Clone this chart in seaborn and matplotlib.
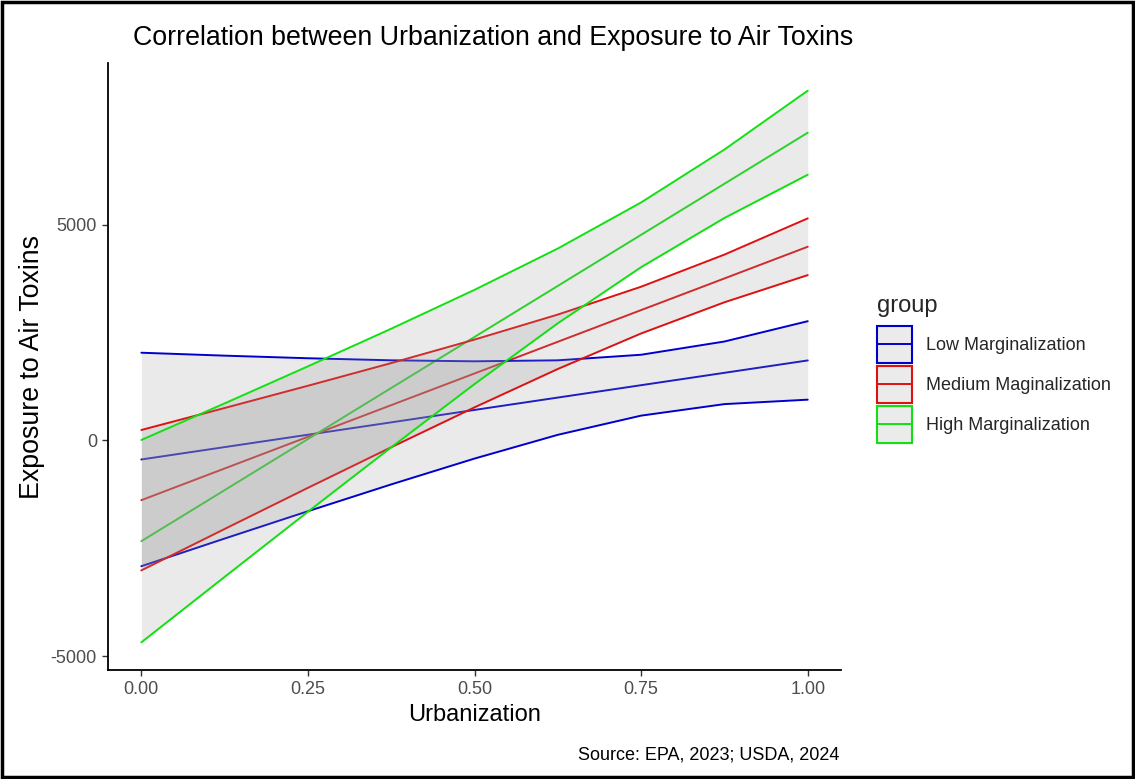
import matplotlib
matplotlib.use("Agg")
import matplotlib.pyplot as plt
from matplotlib.patches import Rectangle
from matplotlib.lines import Line2D
from matplotlib.legend_handler import HandlerBase
import numpy as np
import pandas as pd
import seaborn as sns

# values
urbanization = [0, 0.125, 0.25, 0.375, 0.5, 0.625, 0.75, 0.875, 1.0]
groups = ["Low Marginalization", "Medium Maginalization", "High Marginalization"]

low_fit = [-441, -154, 133, 420, 708, 995, 1282, 1569, 1856]
low_upper = [2035, 1967, 1907, 1859, 1836, 1859, 1988, 2295, 2766]
low_lower = [-2917, -2275, -1641, -1019, -420, 131, 576, 843, 946]

med_fit = [-1385, -650, 85, 819, 1554, 2289, 3024, 3758, 4493]
med_upper = [243, 753, 1269, 1795, 2340, 2920, 3566, 4311, 5151]
med_lower = [-3013, -2053, -1099, -157, 768, 1658, 2482, 3205, 3835]

high_fit = [-2336, -1152, 33, 1217, 2401, 3585, 4770, 5954, 7138]
high_upper = [11, 860, 1719, 2592, 3494, 4452, 5521, 6748, 8113]
high_lower = [-4683, -3164, -1653, -158, 1308, 2718, 4019, 5160, 6163]

colors = {"Low Marginalization": "#0000CD",
          "Medium Maginalization": "#DD1111",
          "High Marginalization": "#11E011"}

rows = []
for g, fit, up, lo in zip(groups,
                          [low_fit, med_fit, high_fit],
                          [low_upper, med_upper, high_upper],
                          [low_lower, med_lower, high_lower]):
    for x, f, u, l in zip(urbanization, fit, up, lo):
        rows.append({"group": g, "urbanization": x, "fit": f, "upper": u, "lower": l})
df = pd.DataFrame(rows)


# legend key like ggplot's ribbon key: grey box, coloured border, line through the middle
class BoxLine(HandlerBase):
    def create_artists(self, legend, orig, xd, yd, w, h, fontsize, trans):
        c = orig.get_color()
        r = Rectangle((-xd, -yd), w, h, facecolor="#EBEBEB", edgecolor=c,
                      linewidth=1.5, transform=trans)
        l = Line2D([-xd, -xd + w], [-yd + h / 2, -yd + h / 2], color=c,
                   linewidth=1.4, transform=trans)
        return [r, l]


sns.set_theme(style="white")
plt.rcParams["font.family"] = ["Liberation Sans", "DejaVu Sans"]

fig = plt.figure(figsize=(11.35, 7.79), dpi=100)
ax = fig.add_axes([0.0952, 0.140, 0.6458, 0.779])

lw = 1.4
# fit lines first, ribbons are drawn over them
sns.lineplot(data=df, x="urbanization", y="fit", hue="group", palette=colors,
             hue_order=groups, linewidth=lw, legend=False, ax=ax, zorder=1)
z = 2
for g in groups:
    d = df[df["group"] == g]
    ax.fill_between(d["urbanization"], d["lower"], d["upper"],
                    color="#999999", alpha=0.2, linewidth=0, zorder=z)
    ax.plot(d["urbanization"], d["upper"], color=colors[g], lw=lw, zorder=z + 1)
    ax.plot(d["urbanization"], d["lower"], color=colors[g], lw=lw, zorder=z + 1)
    z += 2

ymin, ymax = df["lower"].min(), df["upper"].max()
pad = (ymax - ymin) * 0.05
ax.set_ylim(ymin - pad, ymax + pad)
ax.set_xlim(-0.05, 1.05)
ax.set_xticks([0, 0.25, 0.5, 0.75, 1.0])
ax.set_xticklabels(["0.00", "0.25", "0.50", "0.75", "1.00"])
ax.set_yticks([-5000, 0, 5000])
ax.set_yticklabels(["-5000", "0", "5000"])

for s in ["top", "right"]:
    ax.spines[s].set_visible(False)
for s in ["left", "bottom"]:
    ax.spines[s].set_color("black")
    ax.spines[s].set_linewidth(1.3)
ax.tick_params(axis="both", which="major", length=4, width=1, color="#333333",
               labelcolor="#4D4D4D", labelsize=13, direction="out", pad=4)
ax.tick_params(left=True, bottom=True)

ax.set_xlabel("Urbanization", fontsize=17, color="black", labelpad=4)
ax.set_ylabel("Exposure to Air Toxins", fontsize=19.3, color="black", labelpad=4)

fig.text(133 / 1135, 1 - 38 / 779, "Correlation between Urbanization and Exposure to Air Toxins",
         fontsize=19.3, ha="left", va="center", color="black")
fig.text(839 / 1135, 1 - 755 / 779, "Source: EPA, 2023; USDA, 2024",
         fontsize=13, ha="right", va="center", color="black")

handles = [Line2D([], [], color=colors[g]) for g in groups]
leg = fig.legend(handles=handles, labels=groups, loc="upper left",
                 bbox_to_anchor=(870 / 1135, 1 - 288 / 779), frameon=False,
                 title="group", title_fontsize=17, fontsize=13,
                 handler_map={Line2D: BoxLine()},
                 handlelength=1.94, handleheight=2.82, handletextpad=0.78,
                 labelspacing=0.14, alignment="left", borderaxespad=0)
# a bit more room between the legend title and the keys
leg._legend_box.sep = 6

fig.patches.append(Rectangle((0.002, 0.003), 0.996, 0.994, transform=fig.transFigure,
                             fill=False, edgecolor="black", linewidth=2.5))

fig.savefig("out.png", dpi=100)
